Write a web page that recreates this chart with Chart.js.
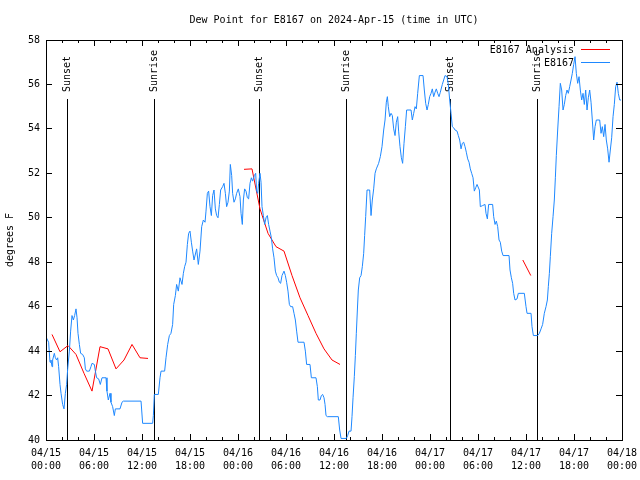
<!DOCTYPE html>
<html>
<head>
<meta charset="utf-8">
<title>Dew Point for E8167</title>
<script src="https://cdn.jsdelivr.net/npm/chart.js@4.4.1/dist/chart.umd.min.js"></script>
<style>
  html, body { margin: 0; padding: 0; background: #fff; }
  #wrap { width: 640px; height: 480px; }
</style>
</head>
<body>
<div id="wrap"><canvas id="dewChart" width="640" height="480"></canvas></div>
<script>
// Chart text
const titleText = "Dew Point for E8167 on 2024-Apr-15 (time in UTC)";
const yTitle = "degrees F";
const seriesNames = ["E8167 Analysis", "E8167"];

// x axis is hours since 04/15 00:00 UTC, labelled every 6 h
const tickDates = ["04/15", "04/15", "04/15", "04/15", "04/16", "04/16", "04/16",
                   "04/16", "04/17", "04/17", "04/17", "04/17", "04/18"];
const tickTimes = ["00:00", "06:00", "12:00", "18:00", "00:00", "06:00", "12:00",
                   "18:00", "00:00", "06:00", "12:00", "18:00", "00:00"];

// sunset / sunrise markers (hours)
const sunHours = [2.6, 13.5, 26.6, 37.5, 50.5, 61.4];
const sunLabels = ["Sunset", "Sunrise", "Sunset", "Sunrise", "Sunset", "Sunrise"];

// analysis (red), null breaks the line
const anaHours = [0.75, 1.75, 2.75, 3.75, 4.75, 5.75, 6.75, 7.75, 8.75, 9.75, 10.75, 11.75, 12.75,
                  18,
                  24.75, 25.75, 26.75, 27.75, 28.75, 29.75, 30.75, 31.75, 32.75, 33.75, 34.75, 35.75, 36.75,
                  48,
                  59.6, 60.6];
const anaDewpt = [44.75, 43.97, 44.25, 43.85, 43.0, 42.2, 44.2, 44.1, 43.2, 43.6, 44.3, 43.7, 43.67,
                  null,
                  52.18, 52.2, 50.4, 49.3, 48.7, 48.5, 47.4, 46.4, 45.6, 44.8, 44.1, 43.6, 43.4,
                  null,
                  48.1, 47.4];

// observations (blue)
const obsHours = [
  0.05, 0.33, 0.5, 0.62, 0.75, 0.83, 1.04, 1.17, 1.33, 1.46, 1.58, 1.75, 1.88, 2.08, 2.25, 2.42,
  2.58, 2.71, 2.92, 3.08, 3.25, 3.42, 3.58, 3.75, 3.88, 4.0, 4.17, 4.33, 4.58, 4.79, 4.92, 5.08,
  5.42, 5.62, 5.75, 6.04, 6.17, 6.33, 6.58, 6.79, 7.0, 7.5, 7.62, 7.79, 8.0, 8.12, 8.33, 8.54,
  8.67, 9.25, 9.5, 9.67, 11.88, 12.08, 13.33, 13.42, 13.54, 14.04, 14.25, 14.38, 14.83, 15.0,
  15.21, 15.42, 15.62, 15.83, 15.96, 16.17, 16.33, 16.54, 16.75, 17.0, 17.17, 17.33, 17.5, 17.67,
  17.83, 18.0, 18.17, 18.33, 18.5, 18.62, 18.83, 19.04, 19.25, 19.46, 19.67, 19.88, 20.0, 20.17,
  20.33, 20.5, 20.67, 20.83, 21.0, 21.17, 21.33, 21.5, 21.67, 21.83, 22.08, 22.25, 22.42, 22.58,
  22.75, 22.92, 23.04, 23.21, 23.33, 23.5, 23.67, 23.83, 24.04, 24.25, 24.38, 24.54, 24.67, 24.83,
  25.0, 25.17, 25.33, 25.5, 25.67, 25.83, 26.04, 26.21, 26.33, 26.46, 26.58, 26.75, 26.88, 27.0,
  27.17, 27.33, 27.5, 27.67, 27.83, 28.0, 28.17, 28.33, 28.5, 28.67, 28.83, 29.0, 29.17, 29.33,
  29.5, 29.75, 29.92, 30.08, 30.25, 30.42, 30.58, 30.83, 31.0, 31.17, 31.33, 31.5, 32.25, 32.42,
  32.58, 33.0, 33.17, 33.75, 33.92, 34.04, 34.25, 34.42, 34.58, 34.75, 34.88, 35.0, 35.17, 36.54,
  36.71, 36.88, 37.54, 37.71, 37.88, 38.13, 38.25, 38.38, 38.54, 38.67, 38.79, 38.92, 39.04, 39.21,
  39.38, 39.54, 39.71, 39.83, 39.96, 40.13, 40.46, 40.63, 40.79, 40.96, 41.13, 41.29, 41.58, 41.79,
  42.0, 42.21, 42.38, 42.54, 42.67, 42.79, 42.96, 43.13, 43.29, 43.46, 43.63, 43.79, 43.96, 44.08,
  44.25, 44.42, 44.58, 44.75, 44.92, 45.08, 45.63, 45.79, 45.96, 46.13, 46.29, 46.46, 46.67, 47.13,
  47.29, 47.46, 47.63, 47.79, 47.96, 48.13, 48.29, 48.46, 48.63, 48.79, 48.96, 49.13, 49.29, 49.54,
  49.71, 49.88, 50.13, 50.29, 50.46, 50.63, 50.79, 50.96, 51.13, 51.38, 51.54, 51.71, 51.88, 52.04,
  52.21, 52.38, 52.54, 52.71, 52.88, 53.04, 53.21, 53.38, 53.54, 53.71, 53.88, 54.17, 54.29, 54.58,
  54.88, 55.0, 55.17, 55.33, 55.83, 55.96, 56.13, 56.29, 56.46, 56.63, 56.79, 56.96, 57.13, 57.88,
  58.0, 58.17, 58.33, 58.46, 58.63, 58.88, 59.04, 59.79, 60.0, 60.13, 60.63, 60.75, 60.92, 61.46,
  61.67, 61.88, 62.08, 62.29, 62.5, 62.67, 62.79, 62.92, 63.04, 63.21, 63.38, 63.54, 63.67, 63.79,
  63.96, 64.13, 64.29, 64.46, 64.63, 64.79, 64.96, 65.13, 65.29, 65.46, 65.63, 65.79, 65.96, 66.13,
  66.29, 66.46, 66.63, 66.79, 66.96, 67.13, 67.29, 67.46, 67.63, 67.79, 67.96, 68.13, 68.29, 68.46,
  68.63, 68.79, 69.21, 69.38, 69.54, 69.71, 69.88, 70.04, 70.21, 70.38, 70.54, 70.71, 70.88, 71.04,
  71.21, 71.38, 71.54, 71.71, 71.88
];
const obsDewpt = [
  44.6, 44.4, 43.5, 43.6, 43.3, 43.6, 43.9, 43.7, 43.6, 43.7, 43.3, 42.5, 42.1, 41.6, 41.4, 42.1,
  42.5, 43.2, 44.0, 44.9, 45.6, 45.4, 45.6, 45.9, 45.5, 44.8, 44.3, 43.9, 43.85, 43.7, 43.2, 43.1,
  43.1, 43.3, 43.45, 43.4, 43.1, 42.8, 42.75, 42.5, 42.8, 42.8, 42.2, 41.8, 42.1, 41.7, 41.5, 41.1,
  41.4, 41.4, 41.7, 41.75, 41.75, 40.75, 40.75, 41.1, 42.05, 42.05, 42.8, 43.1, 43.1, 43.7,
  44.3, 44.7, 44.8, 45.2, 46.1, 46.5, 47.0, 46.7, 47.3, 47.0, 47.5, 47.8, 48.0, 48.8,
  49.3, 49.4, 48.9, 48.5, 48.1, 48.1, 48.6, 47.9, 48.5, 49.6, 49.9, 49.8, 50.3, 51.1,
  51.2, 50.5, 50.1, 51.0, 51.25, 50.4, 50.1, 50.0, 50.6, 51.25, 51.4, 51.55, 51.1, 50.5,
  50.7, 51.2, 52.4, 51.9, 51.1, 50.7, 50.85, 51.1, 51.3, 50.95, 50.2, 49.7, 50.8, 51.3,
  51.2, 50.9, 50.85, 51.55, 51.8, 51.65, 51.9, 52.0, 51.2, 51.1, 51.55, 52.0, 51.6, 50.5,
  50.1, 49.7, 50.0, 50.1, 49.7, 49.4, 49.1, 48.6, 48.2, 47.6, 47.4, 47.3, 47.1, 47.05,
  47.4, 47.6, 47.4, 47.1, 46.7, 46.1, 46.0, 46.0, 45.7, 45.4, 44.9, 44.4, 44.4, 44.0,
  43.4, 43.4, 42.8, 42.8, 42.4, 41.8, 41.8, 42.0, 42.05, 41.9, 41.6, 41.1, 41.05, 41.05,
  40.45, 40.07, 40.07, 40.2, 40.4, 40.4, 41.05, 41.9, 42.85, 43.8, 44.8, 45.85, 46.75, 47.3,
  47.4, 47.8, 48.4, 49.2, 50.05, 51.25, 51.25, 50.1, 50.8, 51.3, 52.0, 52.2, 52.45, 52.75,
  53.2, 53.95, 54.4, 55.2, 55.45, 55.0, 54.55, 54.7, 54.6, 54.0, 53.7, 54.3, 54.55, 53.9,
  53.2, 52.7, 52.45, 53.35, 54.1, 54.85, 54.85, 54.4, 54.7, 55.0, 54.9, 55.6, 56.4, 56.4,
  55.75, 55.15, 54.85, 55.1, 55.45, 55.6, 55.8, 55.45, 55.65, 55.8, 55.6, 55.45, 55.65, 56.0,
  56.2, 56.4, 56.35, 56.0, 55.3, 54.7, 54.1, 54.05, 53.95, 53.9, 53.7, 53.5, 53.1, 53.35,
  53.4, 53.2, 52.95, 52.65, 52.5, 52.2, 52.0, 51.8, 51.2, 51.35, 51.5, 51.25, 50.5, 50.55,
  50.6, 50.2, 49.95, 50.6, 50.6, 50.05, 49.7, 49.85, 49.6, 49.0, 48.9, 48.5, 48.3, 48.3,
  47.65, 47.3, 47.05, 46.6, 46.3, 46.35, 46.6, 46.6, 46.0, 45.7, 45.7, 45.1, 44.7, 44.7,
  44.8, 45.0, 45.2, 45.7, 46.0, 46.3, 46.9, 47.5, 48.25, 49.3, 50.05, 50.8, 51.8, 52.8,
  53.95, 55.0, 56.05, 55.75, 54.85, 55.1, 55.5, 55.75, 55.6, 55.9, 56.2, 56.5, 56.9, 57.25,
  56.5, 56.05, 56.35, 55.75, 55.3, 55.6, 55.1, 55.75, 54.85, 55.4, 55.75, 55.2, 54.4, 53.5,
  54.1, 54.4, 54.4, 53.8, 54.1, 53.65, 54.2, 53.5, 53.1, 52.5, 53.05, 53.6, 54.55, 55.1,
  55.9, 56.1, 55.6, 55.3, 55.3
];

const monoFont = "10px 'DejaVu Sans Mono', monospace";

function toPoints(xs, ys) {
  return xs.map((h, i) => ({ x: h, y: ys[i] }));
}

// vertical sunset/sunrise lines with rotated labels
const sunMarkers = {
  id: "sunMarkers",
  beforeDatasetsDraw(chart) {
    const { ctx, chartArea, scales: { x } } = chart;
    ctx.save();
    ctx.strokeStyle = "#000";
    ctx.lineWidth = 1;
    ctx.font = monoFont;
    ctx.fillStyle = "#000";
    sunHours.forEach((h, i) => {
      const px = Math.round(x.getPixelForValue(h)) + 0.5;
      ctx.beginPath();
      ctx.moveTo(px, chartArea.top + 59);
      ctx.lineTo(px, chartArea.bottom);
      ctx.stroke();
      ctx.save();
      ctx.translate(px, chartArea.top + 52);
      ctx.rotate(-Math.PI / 2);
      ctx.textAlign = "left";
      ctx.textBaseline = "middle";
      ctx.fillText(sunLabels[i], 0, 0);
      ctx.restore();
    });
    ctx.restore();
  }
};

// border box, inward ticks and the key
const frame = {
  id: "frame",
  afterDatasetsDraw(chart) {
    const { ctx, chartArea: a, scales: { x, y } } = chart;
    ctx.save();
    ctx.strokeStyle = "#000";
    ctx.lineWidth = 1;
    ctx.strokeRect(a.left + 0.5, a.top + 0.5, a.right - a.left, a.bottom - a.top);

    ctx.beginPath();
    for (let h = x.min + 2; h < x.max; h += 2) {
      const px = Math.round(x.getPixelForValue(h)) + 0.5;
      const len = h % 6 === 0 ? 6 : 3;
      ctx.moveTo(px, a.bottom);
      ctx.lineTo(px, a.bottom - len);
      ctx.moveTo(px, a.top);
      ctx.lineTo(px, a.top + len);
    }
    y.ticks.forEach(t => {
      const py = Math.floor(y.getPixelForValue(t.value)) + 0.5;
      ctx.moveTo(a.left, py);
      ctx.lineTo(a.left + 6, py);
      ctx.moveTo(a.right, py);
      ctx.lineTo(a.right - 6, py);
    });
    ctx.stroke();

    ctx.font = monoFont;
    ctx.textAlign = "right";
    ctx.textBaseline = "middle";
    chart.data.datasets.forEach((ds, i) => {
      const ly = a.top + 9.5 + i * 13;
      ctx.fillStyle = "#000";
      ctx.fillText(ds.label, a.right - 48, ly + 0.5);
      ctx.strokeStyle = ds.borderColor;
      ctx.beginPath();
      ctx.moveTo(a.right - 41, ly);
      ctx.lineTo(a.right - 12, ly);
      ctx.stroke();
    });
    ctx.restore();
  }
};

const tickFont = { family: "'DejaVu Sans Mono', monospace", size: 10, lineHeight: 1.3 };

new Chart(document.getElementById("dewChart"), {
  type: "line",
  data: {
    datasets: [
      {
        label: seriesNames[0],
        data: toPoints(anaHours, anaDewpt),
        borderColor: "#ff0000",
        borderWidth: 1,
        pointRadius: 0,
        spanGaps: false,
        order: 1
      },
      {
        label: seriesNames[1],
        data: toPoints(obsHours, obsDewpt),
        borderColor: "#1e88ff",
        borderWidth: 1,
        pointRadius: 0,
        order: 0
      }
    ]
  },
  options: {
    responsive: false,
    animation: false,
    events: [],
    layout: { padding: { left: 0, right: 18, top: 0, bottom: 0 } },
    plugins: {
      legend: { display: false },
      tooltip: { enabled: false },
      title: {
        display: true,
        text: titleText,
        color: "#000",
        fullSize: false,
        font: { family: "'DejaVu Sans Mono', monospace", size: 10, weight: "normal", lineHeight: 1.2 },
        padding: { top: 14, bottom: 14 }
      }
    },
    scales: {
      x: {
        type: "linear",
        min: 0,
        max: 72,
        grid: { display: false, drawTicks: false },
        border: { display: false },
        ticks: {
          stepSize: 6,
          autoSkip: false,
          maxRotation: 0,
          padding: 7,
          color: "#000",
          font: tickFont,
          callback: (value, index) => [tickDates[index], tickTimes[index]]
        },
        afterFit: scale => {
          scale.height = 40;
          // let the layout padding decide the plot edges, not the end labels
          scale.paddingLeft = 0;
          scale.paddingRight = 0;
        }
      },
      y: {
        min: 40,
        max: 58,
        grid: { display: false, drawTicks: false },
        border: { display: false },
        ticks: { stepSize: 2, padding: 6, color: "#000", font: tickFont },
        title: {
          display: true,
          text: yTitle,
          color: "#000",
          font: { family: "'DejaVu Sans Mono', monospace", size: 10 },
          padding: { top: 4, bottom: 0 }
        },
        afterFit: scale => {
          scale.width = 46;
          scale.paddingTop = 0;
          scale.paddingBottom = 0;
        }
      }
    }
  },
  plugins: [sunMarkers, frame]
});
</script>
</body>
</html>
